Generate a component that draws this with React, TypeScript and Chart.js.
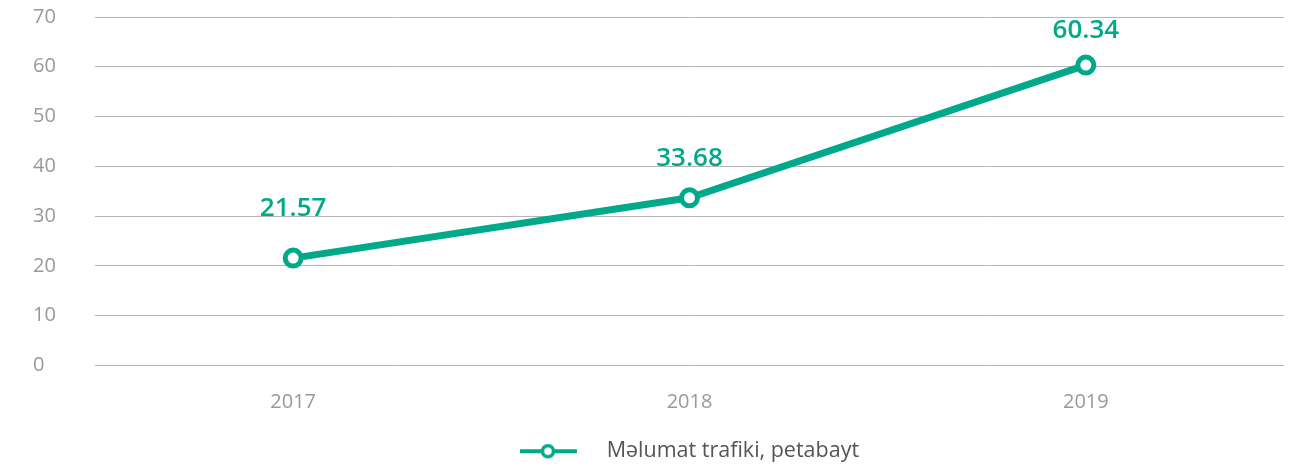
import React, { useEffect, useRef } from "react";
import { Chart, registerables } from "chart.js";

Chart.register(...registerables);

const categories = ["2017", "2018", "2019"];
const trafficValues = [21.57, 33.68, 60.34];
const seriesLabel = "Məlumat trafiki, petabayt";
const yTicks = [0, 10, 20, 30, 40, 50, 60, 70];

const GREEN = "#00a98a";
const FONT = "'Open Sans', 'Noto Sans', sans-serif";

function makeLegendIcon(): HTMLCanvasElement {
  const c = document.createElement("canvas");
  c.width = 76;
  c.height = 20;
  const ctx = c.getContext("2d")!;
  ctx.strokeStyle = GREEN;
  ctx.lineWidth = 4;
  ctx.beginPath();
  ctx.moveTo(0, 10);
  ctx.lineTo(57, 10);
  ctx.stroke();
  ctx.beginPath();
  ctx.arc(28, 10, 5.5, 0, Math.PI * 2);
  ctx.fillStyle = "#fff";
  ctx.fill();
  ctx.lineWidth = 3.5;
  ctx.stroke();
  return c;
}

const valueLabelPlugin = {
  id: "valueLabels",
  afterDatasetsDraw(chart: any, _args: any, opts: any) {
    const ctx = chart.ctx;
    const meta = chart.getDatasetMeta(0);
    const data = chart.data.datasets[0].data;
    const offsets: number[] = opts.offsets || [];
    ctx.save();
    ctx.fillStyle = GREEN;
    ctx.font = `600 26px ${FONT}`;
    ctx.textAlign = "center";
    ctx.textBaseline = "middle";
    meta.data.forEach((pt: any, i: number) => {
      const v = data[i] as number;
      ctx.fillText(v.toFixed(2), pt.x, pt.y - (offsets[i] ?? 40));
    });
    ctx.restore();
  },
};

// centre the legend under the plot area rather than the whole canvas
const legendCenterPlugin = {
  id: "legendCenter",
  afterLayout(chart: any) {
    const lg = chart.legend;
    if (!lg) return;
    lg.left = chart.chartArea.left;
    lg.right = chart.chartArea.right;
  },
};

export default function App() {
  const ref = useRef<HTMLCanvasElement | null>(null);
  useEffect(() => {
    if (!ref.current) return;
    const icon = makeLegendIcon();
    const chart = new Chart(ref.current, {
      type: "line",
      data: {
        labels: categories,
        datasets: [
          {
            label: seriesLabel,
            data: trafficValues,
            borderColor: GREEN,
            borderWidth: 7,
            pointRadius: 8,
            pointBorderWidth: 5,
            pointBackgroundColor: "#fff",
            pointBorderColor: GREEN,
            fill: false,
            tension: 0,
            clip: false,
          },
        ],
      },
      options: {
        animation: false,
        responsive: true,
        maintainAspectRatio: false,
        layout: {
          autoPadding: false,
          padding: { left: 25, right: 2, top: 9, bottom: 0 },
        },
        scales: {
          x: {
            offset: true,
            grid: { display: false },
            border: { display: false },
            afterFit: (scale: any) => {
              scale.height = 72;
              scale.paddingLeft = 0;
              scale.paddingRight = 0;
            },
            ticks: {
              color: "#999",
              font: { family: FONT, size: 20 },
              padding: 17,
            },
          },
          y: {
            min: 0,
            max: 70,
            afterBuildTicks: (scale: any) => {
              scale.ticks = yTicks.map((v) => ({ value: v }));
            },
            afterFit: (scale: any) => {
              scale.width = 62;
              scale.paddingTop = 0;
              scale.paddingBottom = 0;
            },
            grid: { color: "#b5b5b5", lineWidth: 1, drawTicks: false },
            border: { display: false },
            ticks: {
              color: "#999",
              crossAlign: "far",
              font: { family: FONT, size: 20 },
            },
          },
        },
        plugins: {
          legend: {
            position: "bottom",
            labels: {
              usePointStyle: true,
              pointStyle: icon as any,
              pointStyleWidth: 76,
              color: "#555",
              font: { family: FONT, size: 21.5 },
              padding: 3,
              generateLabels: () => [
                {
                  text: seriesLabel,
                  pointStyle: icon,
                  fillStyle: GREEN,
                  strokeStyle: GREEN,
                  lineWidth: 0,
                  hidden: false,
                  datasetIndex: 0,
                  fontColor: "#555",
                },
              ],
            },
          },
          tooltip: { enabled: false },
          valueLabels: { offsets: [50, 39, 34] },
        } as any,
      },
      plugins: [valueLabelPlugin, legendCenterPlugin],
    });
    return () => chart.destroy();
  }, []);
  return (
    <div
      style={{
        position: "relative",
        width: "1278px",
        height: "464px",
        marginBottom: "-8px",
      }}
    >
      <canvas ref={ref} />
    </div>
  );
}
